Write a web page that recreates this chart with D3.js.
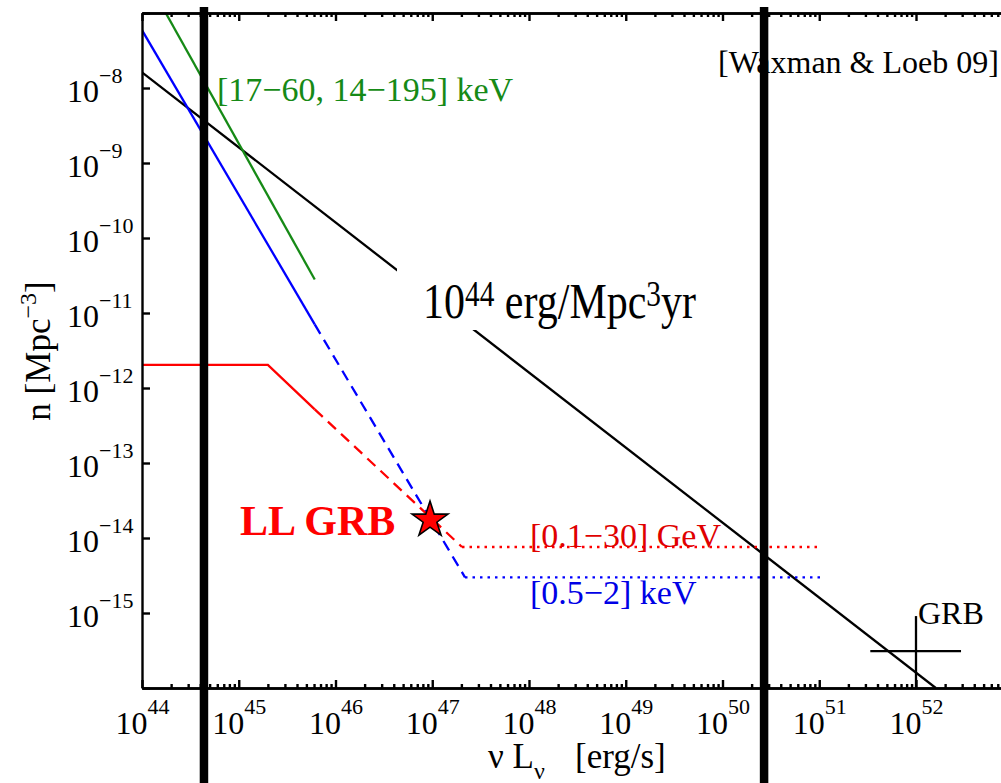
<!DOCTYPE html>
<head>
<meta charset="utf-8">
<title>LL GRB rate density</title>
<script type="text/javascript" src="https://cdn.jsdelivr.net/npm/d3@7/dist/d3.min.js"></script>
<style>
	body { margin: 0; background: #fff; }
	svg text { font-family: 'Liberation Serif', 'Tinos', 'Nimbus Roman', 'DejaVu Serif', serif !important; }
	.axis path, .axis line { fill: none; stroke: #000; stroke-width: 2.4; }
	.axis text { font-size: 32px; fill: #000; }
</style>
</head>

<body>
<script>
var width = 1001;
var height = 783;

// tick exponents
var xExps = [44, 45, 46, 47, 48, 49, 50, 51, 52];
var yExps = [-8, -9, -10, -11, -12, -13, -14, -15];

// curves: L in erg/s, n in Mpc^-3
var blackL = [1e44, 1.6e52],        blackN = [1.62e-8, 1e-16];
var greenL = [1.76e44, 6.1e45],     greenN = [1e-7, 2.8e-11];
var blueSolidL = [1e44, 6.1e45],    blueSolidN = [5.9e-8, 7.06e-12];
var blueDashL = [6.1e45, 2.18e47],  blueDashN = [7.06e-12, 2.99e-15];
var blueDotL = [2.18e47, 1.05e51],  blueDotN = [2.99e-15, 2.99e-15];
var redSolidL = [1e44, 2.0e45, 6.1e45], redSolidN = [2.03e-12, 2.03e-12, 5.2e-13];
var redDashL = [6.1e45, 2.03e47],   redDashN = [5.2e-13, 7.59e-15];
var redDotL = [2.03e47, 1.05e51],   redDotN = [7.59e-15, 7.59e-15];

// points
var starL = 9.48e46, starN = 1.74e-14;
var grbL = 1e52, grbN = 3.1e-16;
var grbLRange = [3.37e51, 2.92e52];
var grbNRange = [9.1e-16, 1e-16];

// thick vertical markers
var markL = [4.37e44, 2.69e50];

var serif = "'Liberation Serif', 'Tinos', 'Nimbus Roman', 'DejaVu Serif', serif";

var svg = d3.select('body').append('svg')
	.attr('width', width)
	.attr('height', height)
	.attr('font-family', serif);

svg.append('rect').attr('width', width).attr('height', height).attr('fill', '#fff');

var xScale = d3.scaleLog().domain([1e44, 1e53]).range([142, 142 + 9 * 96.75]);
var yScale = d3.scaleLog().domain([1e-16, 1e-7]).range([688, 13]);

svg.append('clipPath').attr('id', 'plotclip')
	.append('rect').attr('x', 142).attr('y', 13).attr('width', width).attr('height', 675);

var plot = svg.append('g').attr('clip-path', 'url(#plotclip)');

var line = d3.line()
	.x(function(d) { return xScale(d[0]); })
	.y(function(d) { return yScale(d[1]); });

function pairs(L, N) {
	return L.map(function(l, i) { return [l, N[i]]; });
}

var curves = [
	{L: blackL, N: blackN, color: '#000', dash: null},
	{L: greenL, N: greenN, color: '#168a16', dash: null},
	{L: blueSolidL, N: blueSolidN, color: '#0000ff', dash: null},
	{L: blueDashL, N: blueDashN, color: '#0000ff', dash: '11,7'},
	{L: blueDotL, N: blueDotN, color: '#0000ff', dash: '2.5,5'},
	{L: redSolidL, N: redSolidN, color: '#ff0000', dash: null},
	{L: redDashL, N: redDashN, color: '#ff0000', dash: '11,7'},
	{L: redDotL, N: redDotN, color: '#ff0000', dash: '2.5,5'}
];

plot.selectAll('path.curve').data(curves).enter()
	.append('path')
	.attr('class', 'curve')
	.attr('d', function(d) { return line(pairs(d.L, d.N)); })
	.attr('fill', 'none')
	.attr('stroke', function(d) { return d.color; })
	.attr('stroke-width', 2.3)
	.attr('stroke-dasharray', function(d) { return d.dash; });

// GRB cross
plot.append('line')
	.attr('x1', xScale(grbLRange[0])).attr('x2', xScale(grbLRange[1]))
	.attr('y1', yScale(grbN)).attr('y2', yScale(grbN))
	.attr('stroke', '#000').attr('stroke-width', 2.3);
plot.append('line')
	.attr('x1', xScale(grbL)).attr('x2', xScale(grbL))
	.attr('y1', yScale(grbNRange[0])).attr('y2', yScale(grbNRange[1]))
	.attr('stroke', '#000').attr('stroke-width', 2.3);

// axes
var minorX = xScale.ticks().filter(function(v) {
	var e = Math.log10(v); return Math.abs(e - Math.round(e)) > 1e-6;
});
var majorX = xExps.map(function(e) { return Math.pow(10, e); }).concat([1e53]);
var majorY = yExps.map(function(e) { return Math.pow(10, e); });

function styleAxis(g) {
	g.attr('font-family', serif).attr('font-size', 32);
}

svg.append('g').attr('class', 'axis')
	.attr('transform', 'translate(0,688)')
	.call(d3.axisBottom(xScale).tickValues(minorX).tickSizeInner(-4).tickSizeOuter(0).tickFormat(''));
var xAxis = svg.append('g').attr('class', 'axis')
	.attr('transform', 'translate(0,688)')
	.call(d3.axisBottom(xScale).tickValues(majorX).tickSizeInner(-8).tickSizeOuter(0).tickFormat(''))
	.call(styleAxis);
svg.append('g').attr('class', 'axis')
	.attr('transform', 'translate(0,13)')
	.call(d3.axisTop(xScale).tickValues(minorX).tickSizeInner(-4).tickSizeOuter(0).tickFormat(''));
svg.append('g').attr('class', 'axis')
	.attr('transform', 'translate(0,13)')
	.call(d3.axisTop(xScale).tickValues(majorX).tickSizeInner(-8).tickSizeOuter(0).tickFormat(''));
var yAxis = svg.append('g').attr('class', 'axis')
	.attr('transform', 'translate(142,0)')
	.call(d3.axisLeft(yScale).tickValues(majorY.concat([1e-16, 1e-7])).tickSizeInner(-8).tickSizeOuter(0).tickFormat(''))
	.call(styleAxis);

// x tick labels 10^n
xAxis.selectAll('.tick text').each(function(d) {
	var e = Math.round(Math.log10(d));
	if (xExps.indexOf(e) < 0) return;
	var t = d3.select(this).attr('y', 46).attr('dy', null).attr('text-anchor', 'middle');
	t.append('tspan').text('10');
	t.append('tspan').attr('dy', -20).style('font-size', '22px').text(e);
});

// y tick labels 10^-n, left aligned
yAxis.selectAll('.tick text').each(function(d) {
	var e = Math.round(Math.log10(d));
	if (yExps.indexOf(e) < 0) return;
	var t = d3.select(this).attr('x', -75).attr('y', 13).attr('dy', null).attr('text-anchor', 'start');
	t.append('tspan').text('10');
	t.append('tspan').attr('dy', -19).style('font-size', '22px').text('\u2212' + Math.abs(e));
});

// axis titles
var xt = svg.append('text').attr('x', 488).attr('y', 768).style('font-size', '35px');
xt.append('tspan').text('\u03bd L');
xt.append('tspan').attr('dy', 11).style('font-size', '24px').text('\u03bd');
xt.append('tspan').attr('x', 575).attr('dy', -11).text('[erg/s]');

var yt = svg.append('text').attr('transform', 'translate(50,351) rotate(-90)')
	.attr('text-anchor', 'middle').style('font-size', '35px');
yt.append('tspan').text('n [Mpc');
yt.append('tspan').attr('dy', -14).style('font-size', '24px').text('\u22123');
yt.append('tspan').attr('dy', 14).text(']');

// annotations
svg.append('text').attr('x', 217).attr('y', 101).style('font-size', '34px').attr('fill', '#168a16')
	.text('[17\u221260, 14\u2212195] keV');
svg.append('text').attr('x', 530).attr('y', 547).style('font-size', '34px').attr('fill', '#e00000')
	.text('[0.1\u221230] GeV');
svg.append('text').attr('x', 530).attr('y', 604).style('font-size', '34px').attr('fill', '#0000e6')
	.text('[0.5\u22122] keV');
svg.append('text').attr('x', 718).attr('y', 73).style('font-size', '32px').attr('fill', '#000')
	.text('[Waxman & Loeb 09]');
svg.append('text').attr('x', 918).attr('y', 624).style('font-size', '32px').attr('fill', '#000')
	.text('GRB');
svg.append('text').attr('x', 240).attr('y', 535).style('font-size', '42px').style('font-weight', 'bold')
	.attr('fill', '#ff0000').text('LL GRB');

// energy rate label over a white box
svg.append('rect').attr('x', 397).attr('y', 262).attr('width', 322).attr('height', 68).attr('fill', '#fff');
var big = svg.append('text').attr('transform', 'translate(423,318) scale(0.84,1)').style('font-size', '50px');
big.append('tspan').text('10');
big.append('tspan').attr('dy', -12).style('font-size', '35px').text('44');
big.append('tspan').attr('dy', 12).text(' erg/Mpc');
big.append('tspan').attr('dy', -12).style('font-size', '35px').text('3');
big.append('tspan').attr('dy', 12).text('yr');

// LL GRB star
svg.append('path')
	.attr('d', d3.symbol().type(d3.symbolStar).size(400)())
	.attr('transform', 'translate(' + xScale(starL) + ',' + yScale(starN) + ')')
	.attr('fill', '#ff0000').attr('stroke', '#000').attr('stroke-width', 1.6);

// thick markers
svg.selectAll('line.mark').data(markL).enter()
	.append('line').attr('class', 'mark')
	.attr('x1', function(d) { return xScale(d); })
	.attr('x2', function(d) { return xScale(d); })
	.attr('y1', 7).attr('y2', height)
	.attr('stroke', '#000').attr('stroke-width', 8.5);
</script>
</body>
